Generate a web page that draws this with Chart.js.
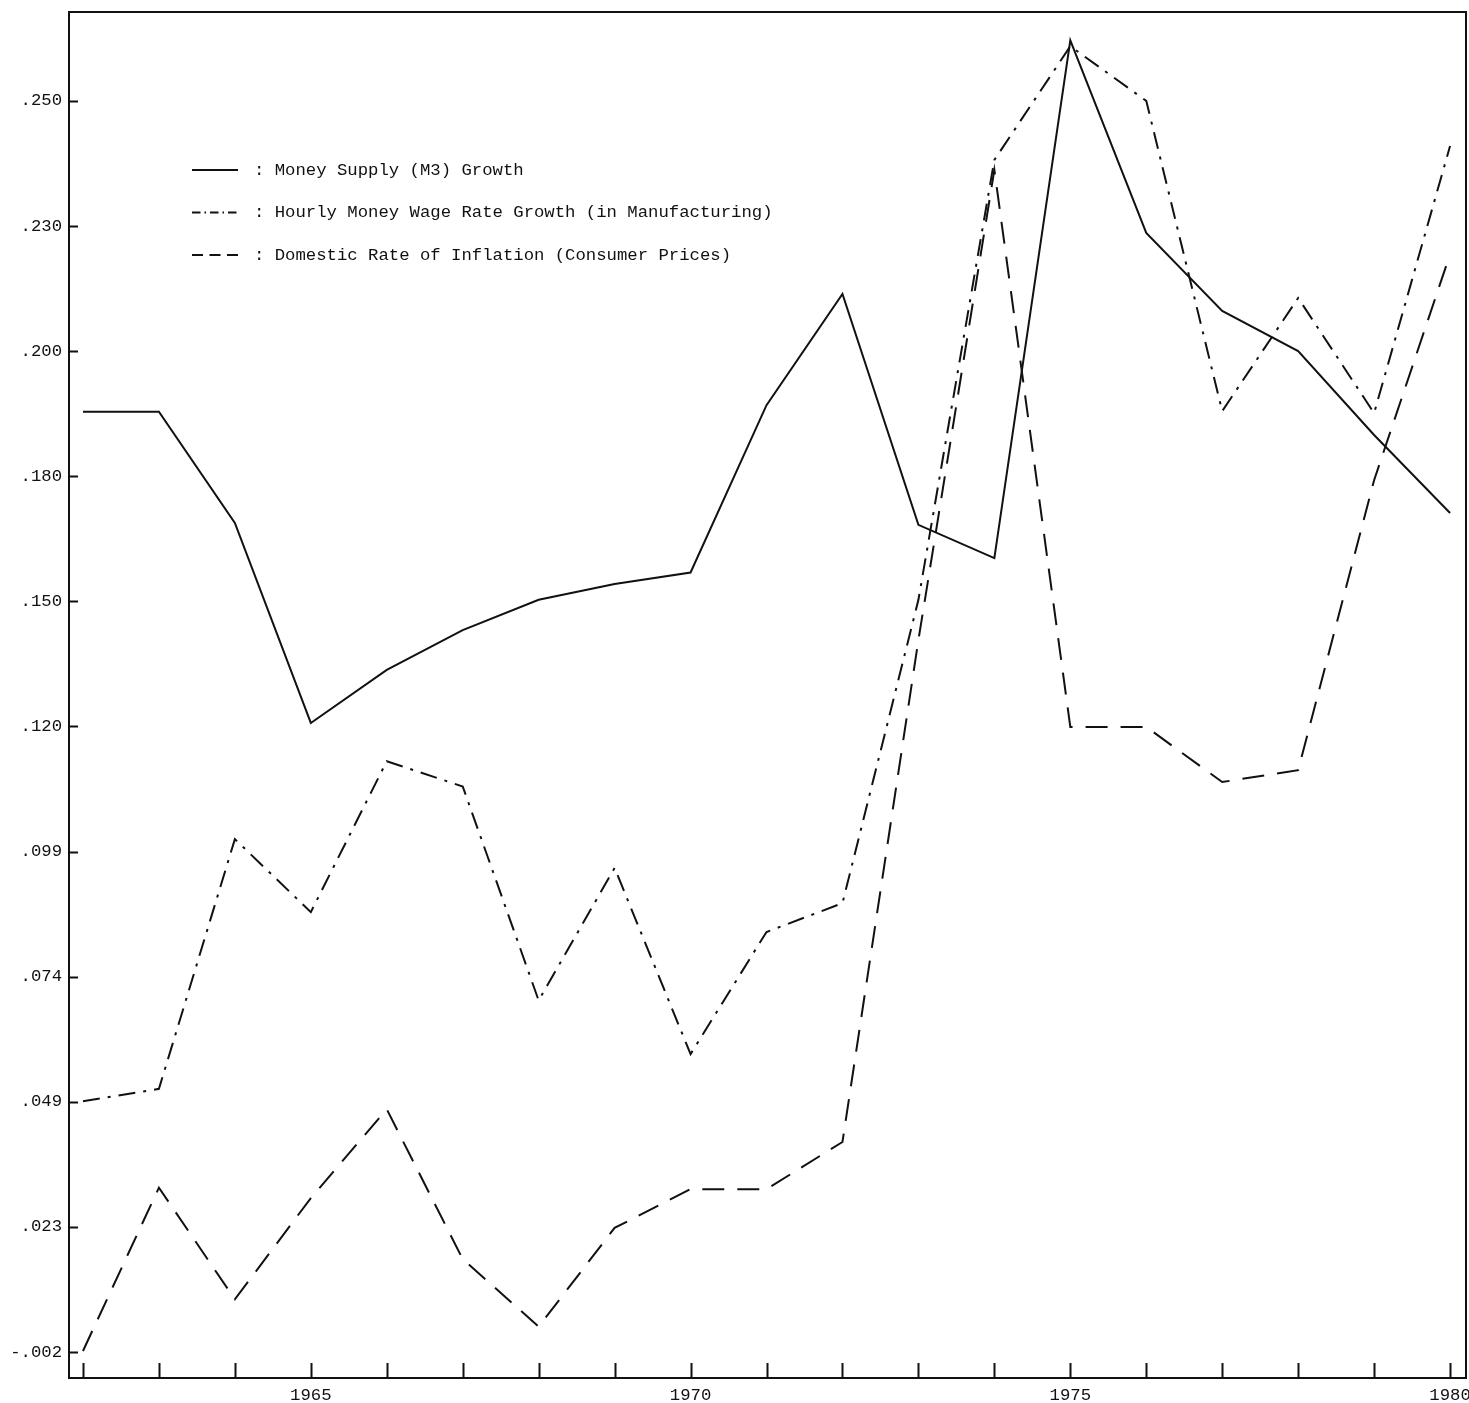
<!DOCTYPE html>
<html>
<head>
<meta charset="utf-8">
<title>Money supply, wages and inflation 1962-1980</title>
<script src="https://cdn.jsdelivr.net/npm/chart.js@4.4.1/dist/chart.umd.min.js"></script>
<style>
  html, body { margin: 0; padding: 0; background: #fff; }
  #chart { display: block; }
</style>
</head>
<body>
<canvas id="chart" width="1469" height="1403"></canvas>
<script>
/* global Chart */

// years on the x axis, only some of them get a label
const years = [1962, 1963, 1964, 1965, 1966, 1967, 1968, 1969, 1970, 1971,
  1972, 1973, 1974, 1975, 1976, 1977, 1978, 1979, 1980]
const yearLabels = [1965, 1970, 1975, 1980]

// growth rates
const moneySupply = [0.1874, 0.1874, 0.1650, 0.1247, 0.1354, 0.1434, 0.1495, 0.1527, 0.1550, 0.1887,
  0.2111, 0.1646, 0.1579, 0.2622, 0.2234, 0.2077, 0.1996, 0.1827, 0.1670]
const wageRate = [0.0485, 0.0510, 0.1013, 0.0866, 0.1170, 0.1119, 0.0688, 0.0955, 0.0580, 0.0826,
  0.0884, 0.1495, 0.2381, 0.2610, 0.2500, 0.1875, 0.2103, 0.1871, 0.2409]
const inflation = [-0.0018, 0.0311, 0.0086, 0.0290, 0.0469, 0.0167, 0.0031, 0.0230, 0.0308, 0.0308,
  0.0403, 0.1414, 0.2361, 0.1239, 0.1239, 0.1128, 0.1152, 0.1736, 0.2191]

// the y axis is printed with evenly spaced ticks but rounded, uneven labels
const yTickValues = [-0.002, 0.0232, 0.0484, 0.0736, 0.0988, 0.1240, 0.1492, 0.1744, 0.1996, 0.2248, 0.2500]
const yTickLabels = ['-.002', '.023', '.049', '.074', '.099', '.120', '.150', '.180', '.200', '.230', '.250']

const INK = '#111'
const FONT = { family: "'Liberation Mono', 'DejaVu Sans Mono', monospace", size: 17.3 }

const toPoints = values => years.map((year, i) => ({ x: year, y: values[i] }))

const lineStyle = {
  borderColor: INK,
  borderWidth: 2,
  pointRadius: 0,
  tension: 0,
  fill: false
}

// frame, inward tick marks and the in-plot key, drawn like the typed original
const framePlugin = {
  id: 'frame',
  afterDatasetsDraw (chart) {
    const { ctx, chartArea: area, scales: { x, y } } = chart
    ctx.save()
    ctx.strokeStyle = INK
    ctx.lineWidth = 2
    ctx.setLineDash([])
    ctx.strokeRect(area.left, area.top, area.right - area.left, area.bottom - area.top)

    ctx.beginPath()
    x.ticks.forEach(t => {
      const px = Math.round(x.getPixelForValue(t.value)) + 0.5
      ctx.moveTo(px, area.bottom)
      ctx.lineTo(px, area.bottom - 15)
    })
    y.ticks.forEach(t => {
      const py = Math.round(y.getPixelForValue(t.value)) + 0.5
      ctx.moveTo(area.left, py)
      ctx.lineTo(area.left + 9, py)
    })
    ctx.stroke()

    // key
    ctx.font = FONT.size + 'px ' + FONT.family
    ctx.fillStyle = INK
    ctx.textBaseline = 'middle'
    chart.data.datasets.forEach((ds, i) => {
      const ky = area.top + 158 + i * 42.5
      const kx = area.left + 123
      ctx.beginPath()
      ctx.lineWidth = 2
      ctx.setLineDash(ds.borderDash.length ? ds.borderDash.map(d => d * 0.5) : [])
      ctx.moveTo(kx, ky)
      ctx.lineTo(kx + 46, ky)
      ctx.stroke()
      ctx.setLineDash([])
      ctx.fillText(': ' + ds.label, kx + 62, ky)
    })
    ctx.restore()
  }
}

const config = {
  type: 'line',
  data: {
    datasets: [
      Object.assign({ label: 'Money Supply (M3) Growth', data: toPoints(moneySupply), borderDash: [] }, lineStyle),
      Object.assign({ label: 'Hourly Money Wage Rate Growth (in Manufacturing)', data: toPoints(wageRate), borderDash: [17, 8, 3, 8] }, lineStyle),
      Object.assign({ label: 'Domestic Rate of Inflation (Consumer Prices)', data: toPoints(inflation), borderDash: [22, 13] }, lineStyle)
    ]
  },
  options: {
    responsive: false,
    animation: false,
    devicePixelRatio: 1,
    layout: { padding: { top: 12, right: 3, left: 0, bottom: 0 } },
    plugins: {
      legend: { display: false },
      tooltip: { enabled: false }
    },
    scales: {
      x: {
        type: 'linear',
        min: 1961.816,
        max: 1980.21,
        afterFit: scale => {
          scale.height = 25
          scale.paddingLeft = 0
          scale.paddingRight = 0
        },
        afterBuildTicks: scale => { scale.ticks = years.map(v => ({ value: v })) },
        grid: { display: false, drawTicks: false },
        border: { display: false },
        ticks: {
          autoSkip: false,
          maxRotation: 0,
          padding: 7,
          color: INK,
          font: FONT,
          callback: value => (yearLabels.includes(value) ? String(value) : '')
        }
      },
      y: {
        type: 'linear',
        min: -0.00724,
        max: 0.2679,
        afterFit: scale => {
          scale.width = 69
          scale.paddingTop = 0
          scale.paddingBottom = 0
        },
        afterBuildTicks: scale => { scale.ticks = yTickValues.map(v => ({ value: v })) },
        grid: { display: false, drawTicks: false },
        border: { display: false },
        ticks: {
          autoSkip: false,
          padding: 7,
          color: INK,
          font: FONT,
          callback: (value, index) => yTickLabels[index]
        }
      }
    }
  },
  plugins: [framePlugin]
}

const chart = new Chart(document.getElementById('chart'), config)
</script>
</body>
</html>
